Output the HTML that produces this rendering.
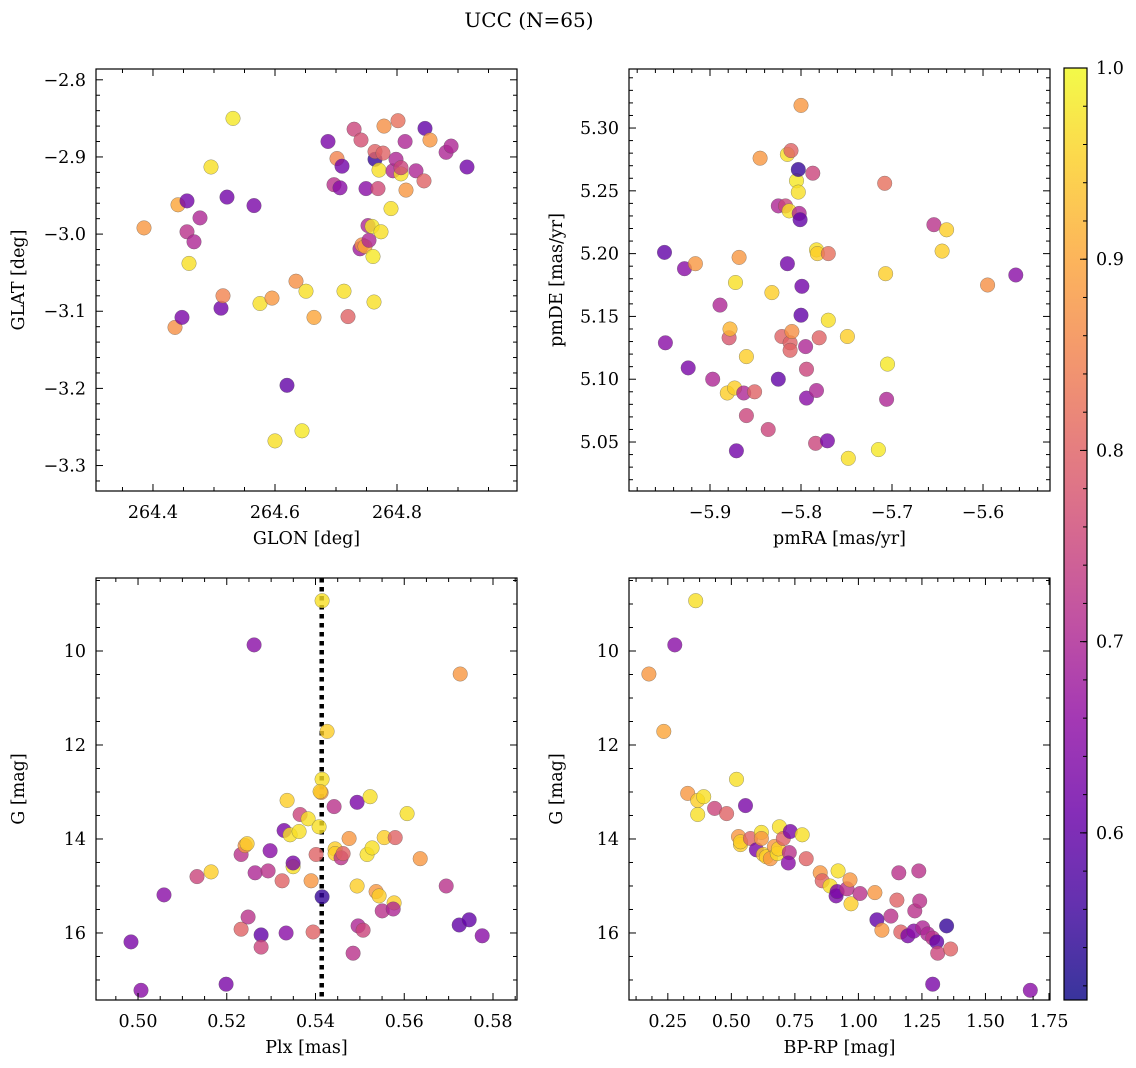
<!DOCTYPE html>
<html><head><meta charset="utf-8"><style>
html,body{margin:0;padding:0;background:#fff;}
svg{display:block;font-family:"DejaVu Serif","Liberation Serif",serif;}
</style></head><body>
<svg id="fig" width="1136" height="1068" viewBox="0 0 1136 1068" xmlns="http://www.w3.org/2000/svg">
<defs><linearGradient id="cbgrad" x1="0" y1="1" x2="0" y2="0"></linearGradient></defs>
<text x="529" y="27" font-size="20" text-anchor="middle">UCC (N=65)</text>
</svg>
<script>
// Panel 1: GLON / GLAT
const glon = [264.3853,264.4361,264.441,264.4476,264.4558,264.4558,264.4591,264.4673,264.4771,264.4951,264.5115,264.5148,264.5214,264.5312,264.5656,264.5755,264.5951,264.6,264.6197,264.6345,264.6443,264.6509,264.664,264.6869,264.6968,264.7017,264.7066,264.7099,264.7132,264.7197,264.7296,264.741,264.7394,264.7427,264.7476,264.7492,264.7525,264.7541,264.7591,264.7607,264.7623,264.764,264.764,264.7689,264.7705,264.7738,264.7787,264.7771,264.7902,264.7935,264.7984,264.8017,264.8066,264.8066,264.8132,264.8148,264.8312,264.8443,264.8459,264.8541,264.8804,264.8886,264.9148];
const glat = [-2.992,-3.121,-2.962,-3.108,-2.957,-2.997,-3.038,-3.010,-2.979,-2.913,-3.096,-3.080,-2.952,-2.850,-2.963,-3.090,-3.083,-3.268,-3.196,-3.061,-3.255,-3.074,-3.108,-2.880,-2.936,-2.902,-2.940,-2.912,-3.074,-3.107,-2.864,-2.878,-3.019,-3.014,-3.016,-2.941,-2.989,-3.008,-2.990,-3.029,-3.088,-2.903,-2.893,-2.941,-2.917,-2.997,-2.860,-2.895,-2.967,-2.918,-2.903,-2.853,-2.922,-2.914,-2.880,-2.943,-2.918,-2.931,-2.863,-2.878,-2.894,-2.886,-2.913];
const prob1 = [.88,.87,.9,.63,.62,.72,.97,.7,.7,.97,.62,.85,.62,.98,.63,.97,.88,.97,.6,.87,.98,.97,.9,.63,.72,.85,.65,.62,.97,.8,.75,.77,.68,.87,.9,.65,.7,.7,.98,.98,.97,.55,.8,.76,.97,.97,.87,.8,.97,.7,.7,.82,.97,.75,.7,.88,.7,.8,.6,.88,.7,.7,.62];
// Panel 2: pmRA / pmDE
const pmra = [-5.950,-5.949,-5.928,-5.924,-5.916,-5.897,-5.889,-5.879,-5.878,-5.881,-5.873,-5.872,-5.871,-5.868,-5.863,-5.860,-5.860,-5.851,-5.845,-5.836,-5.832,-5.825,-5.825,-5.821,-5.817,-5.815,-5.815,-5.812,-5.811,-5.810,-5.812,-5.813,-5.805,-5.803,-5.803,-5.802,-5.801,-5.800,-5.799,-5.800,-5.795,-5.794,-5.794,-5.787,-5.783,-5.782,-5.783,-5.784,-5.780,-5.771,-5.770,-5.770,-5.749,-5.748,-5.715,-5.708,-5.707,-5.705,-5.706,-5.654,-5.640,-5.645,-5.595,-5.564];
const pmde = [5.201,5.129,5.188,5.109,5.192,5.100,5.159,5.133,5.140,5.089,5.093,5.177,5.043,5.197,5.089,5.118,5.071,5.090,5.276,5.060,5.169,5.238,5.100,5.134,5.238,5.192,5.279,5.129,5.282,5.138,5.123,5.234,5.258,5.249,5.267,5.232,5.227,5.318,5.174,5.151,5.126,5.108,5.085,5.264,5.203,5.200,5.091,5.049,5.133,5.051,5.200,5.147,5.134,5.037,5.044,5.256,5.184,5.112,5.084,5.223,5.219,5.202,5.175,5.183];
const prob2 = [.6,.65,.65,.63,.88,.7,.7,.78,.92,.95,.95,.97,.62,.88,.7,.95,.75,.8,.88,.75,.95,.7,.6,.8,.75,.62,.97,.8,.8,.87,.8,.97,.98,.97,.55,.7,.6,.88,.62,.6,.7,.75,.65,.75,.97,.95,.7,.75,.8,.63,.82,.97,.95,.97,.98,.82,.95,.98,.7,.72,.95,.95,.87,.65];
// Panel 3: Plx / G
const plx = [0.49842,0.50068,0.50586,0.5133,0.51646,0.51984,0.52322,0.52322,0.52413,0.52458,0.5248,0.52616,0.52638,0.52773,0.52773,0.52931,0.52976,0.53247,0.53292,0.5336,0.53337,0.53427,0.53495,0.53495,0.5363,0.53653,0.53833,0.53901,0.53946,0.54013,0.54081,0.54149,0.54149,0.54126,0.54104,0.54149,0.54262,0.54419,0.54442,0.54442,0.54577,0.54622,0.54758,0.54848,0.54938,0.54938,0.54961,0.55073,0.55163,0.55231,0.55276,0.55366,0.55434,0.55502,0.55547,0.55772,0.5575,0.55795,0.56065,0.56359,0.56945,0.5726,0.57238,0.57463,0.57756];
const gmag3 = [16.19,17.22,15.19,14.80,14.70,17.09,14.33,15.92,14.14,14.10,15.66,9.87,14.72,16.04,16.30,14.68,14.25,14.89,13.82,13.18,16.00,13.91,14.59,14.51,13.84,13.48,13.57,14.89,15.98,14.33,13.74,8.93,12.73,13.01,12.99,15.23,11.71,13.31,14.21,14.31,14.40,14.31,13.99,16.43,13.22,15.00,15.85,15.94,14.33,13.10,14.19,15.12,15.21,15.53,13.97,15.36,15.49,13.97,13.46,14.42,15.00,10.49,15.83,15.72,16.06];
const prob3 = [.63,.65,.65,.75,.95,.63,.72,.8,.88,.95,.72,.65,.7,.6,.75,.72,.65,.8,.63,.95,.65,.97,.97,.63,.97,.75,.97,.88,.8,.8,.97,.97,.97,.88,.95,.55,.95,.72,.95,.95,.72,.8,.88,.72,.63,.95,.7,.75,.97,.97,.97,.88,.95,.72,.95,.95,.7,.8,.97,.88,.72,.88,.6,.6,.65];
const plxRef = [0.5414];
// Panel 4: BP-RP / G
const bprp = [0.1755,0.2343,0.2774,0.3597,0.3284,0.3676,0.3911,0.3676,0.4342,0.4812,0.5204,0.5282,0.5361,0.5361,0.5556,0.5752,0.5987,0.6183,0.6183,0.6262,0.6379,0.6536,0.6693,0.681,0.685,0.6889,0.7045,0.7281,0.732,0.7241,0.779,0.7947,0.8495,0.8574,0.8887,0.9122,0.9201,0.9161,0.9553,0.9671,0.971,1.0063,1.065,1.0729,1.0925,1.1278,1.1513,1.1591,1.1669,1.1944,1.2179,1.2218,1.2375,1.2414,1.2531,1.2727,1.2923,1.308,1.2923,1.3119,1.3472,1.3629,1.6763];
const gmag4 = [10.49,11.71,9.87,8.93,13.03,13.18,13.10,13.48,13.35,13.46,12.73,13.95,14.12,14.06,13.29,13.99,14.23,13.86,13.99,14.33,14.38,14.42,14.16,14.31,14.21,13.74,13.99,14.29,13.84,14.51,13.91,14.42,14.72,14.89,15.00,15.21,14.68,15.12,15.06,14.87,15.38,15.16,15.14,15.72,15.94,15.64,15.30,14.72,15.98,16.06,15.96,15.53,14.68,15.32,15.89,16.02,16.11,16.19,17.09,16.43,15.85,16.34,17.22];
const prob4 = [.88,.9,.65,.97,.88,.95,.97,.97,.75,.8,.97,.88,.95,.95,.63,.8,.63,.97,.88,.95,.95,.88,.88,.97,.95,.97,.8,.72,.63,.65,.97,.8,.88,.8,.97,.63,.97,.63,.72,.88,.95,.72,.88,.6,.88,.72,.8,.72,.8,.63,.65,.72,.72,.72,.7,.7,.72,.6,.63,.75,.55,.8,.65];
const cbTicks = [0.6,0.7,0.8,0.9,1.0];
const cbRange = [0.5126,1.0];

const NS='http://www.w3.org/2000/svg';
const svg=document.getElementById('fig');
const FS=17.5;
function mk(tag,attrs,parent){const e=document.createElementNS(NS,tag);for(const k in attrs)e.setAttribute(k,attrs[k]);(parent||svg).appendChild(e);return e;}
const stops=[[0,'#0d0887'],[.1,'#41049d'],[.2,'#6a00a8'],[.3,'#8f0da4'],[.4,'#b12a90'],[.5,'#cc4778'],[.6,'#e16462'],[.7,'#f2844b'],[.8,'#fca636'],[.9,'#fcce25'],[1,'#f0f921']];
function hx(h){return [1,3,5].map(i=>parseInt(h.substr(i,2),16));}
function plasma(t){t=Math.max(0,Math.min(1,t));for(let i=1;i<stops.length;i++){if(t<=stops[i][0]){const a=stops[i-1],b=stops[i];const f=(t-a[0])/(b[0]-a[0]);const ca=hx(a[1]),cb=hx(b[1]);return 'rgb('+ca.map((v,j)=>Math.round(v+(cb[j]-v)*f)).join(',')+')';}}return stops[10][1];}
function cnorm(p){return (p-cbRange[0])/(cbRange[1]-cbRange[0]);}
function fmt(v,d){const s=Math.abs(v).toFixed(d);return (v< -1e-9?'\u2212':'')+s;}

function panel(name,box,xd,yd,xt,yt,xs,ys,ps,xlab,ylab,extra){
  const [L,T,R,B]=box;
  const g=mk('g',{});
  
  
  const sx=v=>L+(v-xd[0])/(xd[1]-xd[0])*(R-L);
  const sy=v=>B-(v-yd[0])/(yd[1]-yd[0])*(B-T);
  const clip='clip-'+name;
  const cp=mk('clipPath',{id:clip},g);mk('rect',{x:L,y:T,width:R-L,height:B-T},cp);
  const mg=mk('g',{'clip-path':'url(#'+clip+')'},g);
  if(extra)extra(mg,sx,sy);
  for(let i=0;i<xs.length;i++){
    const c=mk('circle',{cx:sx(xs[i]).toFixed(1),cy:sy(ys[i]).toFixed(1),r:7.3,fill:plasma(cnorm(ps[i])),'fill-opacity':0.8,stroke:'#555','stroke-width':0.5,'stroke-opacity':0.6},mg);
    
    
  }
  const tg=mk('g',{stroke:'#000','stroke-width':1},g);
  function ticks(dom,step,minorStep,dec,isX){
    const lo=Math.min(dom[0],dom[1]),hi=Math.max(dom[0],dom[1]);
    const n0=Math.ceil(lo/minorStep-1e-6),n1=Math.floor(hi/minorStep+1e-6);
    for(let n=n0;n<=n1;n++){
      const v=n*minorStep;const major=Math.abs(v/step-Math.round(v/step))<1e-6;const len=major?7:4;
      if(isX){const x=sx(v);mk('line',{x1:x,x2:x,y1:B,y2:B-len},tg);mk('line',{x1:x,x2:x,y1:T,y2:T+len},tg);
        if(major){const t=mk('text',{x:x,y:B+27,'font-size':FS,'text-anchor':'middle',stroke:'none'},g);t.textContent=fmt(v,dec);}}
      else{const y=sy(v);mk('line',{x1:L,x2:L+len,y1:y,y2:y},tg);mk('line',{x1:R,x2:R-len,y1:y,y2:y},tg);
        if(major){const t=mk('text',{x:L-10,y:y+6,'font-size':FS,'text-anchor':'end',stroke:'none'},g);t.textContent=fmt(v,dec);}}
    }
  }
  ticks(xd,xt[0],xt[1],xt[2],true);
  ticks(yd,yt[0],yt[1],yt[2],false);
  mk('rect',{x:L,y:T,width:R-L,height:B-T,fill:'none',stroke:'#000','stroke-width':1.2},g);
  const xl=mk('text',{x:(L+R)/2,y:B+53,'font-size':FS,'text-anchor':'middle'},g);xl.textContent=xlab;
  
  
  const yx=L-(name==='panel-glon-glat'||name==='panel-plx-g'?72:67);
  const yl=mk('text',{x:yx,y:(T+B)/2,'font-size':FS,'text-anchor':'middle',transform:'rotate(-90 '+yx+' '+((T+B)/2)+')'},g);yl.textContent=ylab;
  
  
}

panel('panel-glon-glat',[96,69,517,491],[264.3066,264.9967],[-3.333,-2.786],[0.2,0.05,1],[0.1,0.02,1],glon,glat,prob1,'GLON [deg]','GLAT [deg]');
panel('panel-pmra-pmde',[629,69,1050,491],[-5.989,-5.5264],[5.011,5.347],[0.1,0.02,1],[0.05,0.01,2],pmra,pmde,prob2,'pmRA [mas/yr]','pmDE [mas/yr]');
panel('panel-plx-g',[96,578,517,1000],[0.49053,0.58541],[17.426,8.447],[0.02,0.005,2],[2,0.5,0],plx,gmag3,prob3,'Plx [mas]','G [mag]',function(mg,sx,sy){
  const x=sx(plxRef[0]);
  const l=mk('line',{x1:x,x2:x,y1:578,y2:1000,stroke:'#000','stroke-width':4.5,'stroke-dasharray':'4.5,4.5'},mg);
  
  
});
panel('panel-bprp-g',[629,578,1050,1000],[0.0972,1.754],[17.426,8.447],[0.25,0.0625,2],[2,0.5,0],bprp,gmag4,prob4,'BP-RP [mag]','G [mag]');

const grad=document.getElementById('cbgrad');
for(let i=0;i<=20;i++){mk('stop',{offset:(i/20),'stop-color':plasma(i/20),'stop-opacity':0.82},grad);}
const cb=mk('g',{});


const cL=1064,cR=1087,cT=68,cB=1000;
mk('rect',{x:cL,y:cT,width:cR-cL,height:cB-cT,fill:'url(#cbgrad)'},cb);
const cy=v=>cB-(v-cbRange[0])/(cbRange[1]-cbRange[0])*(cB-cT);
for(let n=Math.ceil(cbRange[0]/0.02-1e-6);n<=Math.floor(cbRange[1]/0.02+1e-6);n++){
  const v=n*0.02;const y=cy(v);mk('line',{x1:cR,x2:cR-4,y1:y,y2:y,stroke:'#000','stroke-width':1},cb);
}
cbTicks.forEach(v=>{const y=cy(v);mk('line',{x1:cR,x2:cR-7,y1:y,y2:y,stroke:'#000','stroke-width':1},cb);
  const t=mk('text',{x:cR+9,y:y+6,'font-size':FS},cb);t.textContent=v.toFixed(1);
  
  });
mk('rect',{x:cL,y:cT,width:cR-cL,height:cB-cT,fill:'none',stroke:'#000','stroke-width':1.2},cb);
</script>
</body></html>
